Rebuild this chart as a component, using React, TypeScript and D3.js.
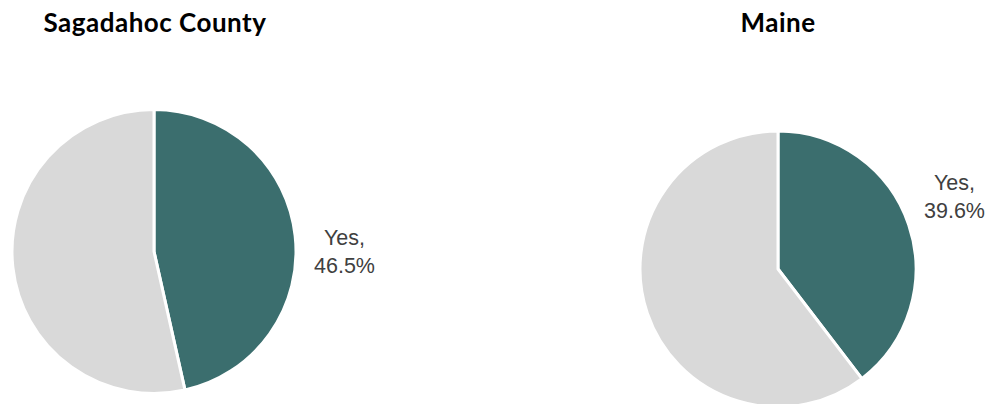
import React from "react";
import * as d3 from "d3";

const categories = ["Yes", "No"];
const sagadahocValues = [46.5, 53.5];
const maineValues = [39.6, 60.4];
const titles = ["Sagadahoc County", "Maine"];
const colors = ["#3B6E6E", "#D9D9D9"];

const W = 991;
const H = 404;

type PieProps = {
  title: string;
  values: number[];
  cx: number;
  cy: number;
  r: number;
  titleX: number;
  labelX: number;
  labelY: number;
};

function Pie({ title, values, cx, cy, r, titleX, labelX, labelY }: PieProps) {
  const pie = d3.pie<number>().sort(null).value((d) => d)(values);
  const arc = d3.arc<d3.PieArcDatum<number>>().innerRadius(0).outerRadius(r);
  return (
    <g>
      <text
        x={titleX}
        y={32}
        textAnchor="middle"
        fontFamily="Lato, 'Open Sans', sans-serif"
        fontWeight={700}
        fontSize={26}
        letterSpacing={0.5}
        fill="#000"
      >
        {title}
      </text>
      <g transform={`translate(${cx},${cy})`}>
        {pie.map((p, i) => (
          <path key={i} d={arc(p) || ""} fill={colors[i]} stroke="#fff" strokeWidth={3} strokeLinejoin="round" />
        ))}
      </g>
      <text
        x={labelX}
        y={labelY}
        textAnchor="middle"
        fontFamily="'Liberation Sans', Arial, sans-serif"
        fontSize={21.5}
        fill="#404040"
      >
        <tspan x={labelX} dy={0}>{categories[0]},</tspan>
        <tspan x={labelX} dy={28}>{values[0].toFixed(1)}%</tspan>
      </text>
    </g>
  );
}

export default function App() {
  return (
    <div style={{ position: "absolute", left: 0, top: 0 }}>
      <svg width={W} height={H} style={{ display: "block", background: "#fff" }}>
        <Pie title={titles[0]} values={sagadahocValues} cx={154} cy={251.5} r={142} titleX={155} labelX={344.5} labelY={245} />
        <Pie title={titles[1]} values={maineValues} cx={778} cy={269} r={138} titleX={778} labelX={954.5} labelY={190} />
      </svg>
    </div>
  );
}
